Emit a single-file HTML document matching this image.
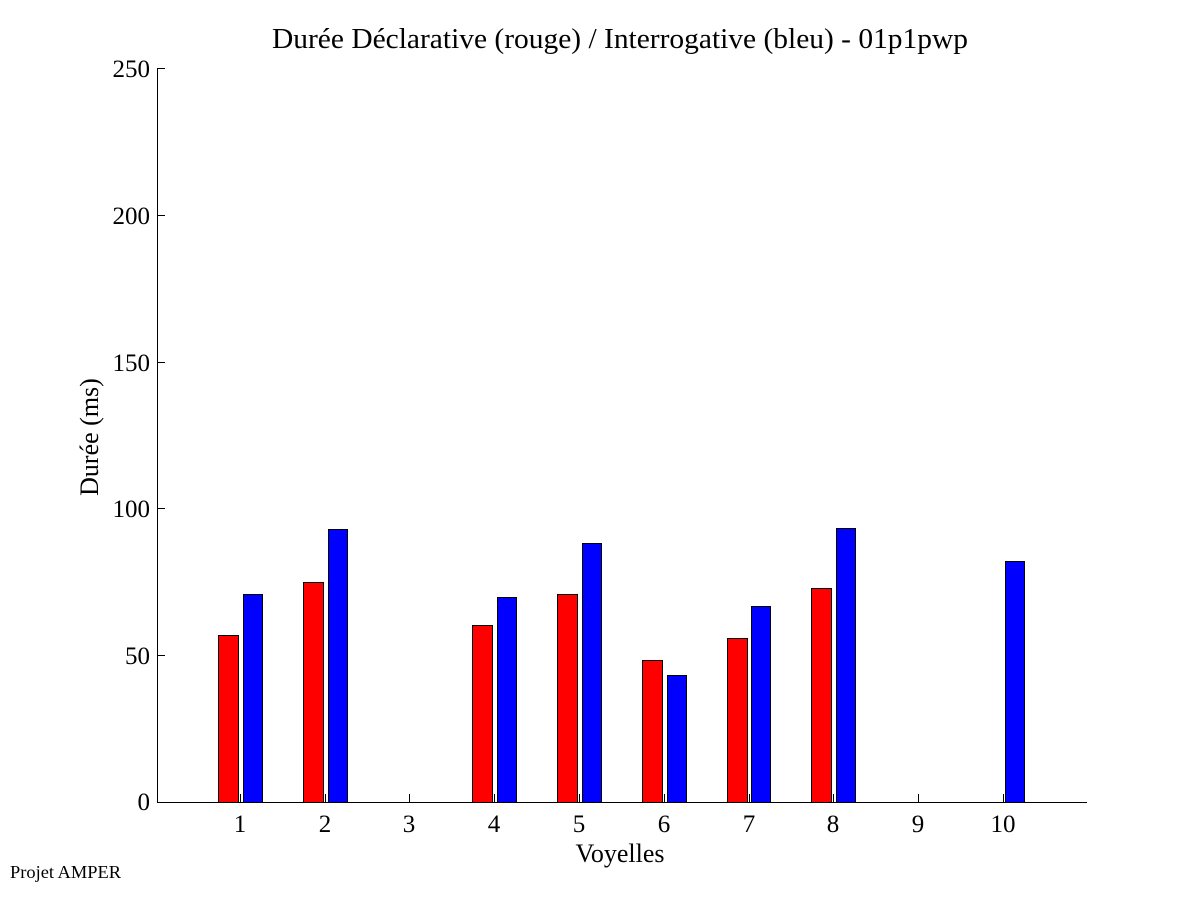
<!DOCTYPE html>
<html><head><style>body{margin:0;background:#fff}svg{display:block}text{font-family:"Liberation Serif",serif;fill:#000}</style></head><body>
<svg width="1201" height="901" viewBox="0 0 1201 901" xmlns="http://www.w3.org/2000/svg">
<rect width="1201" height="901" fill="#fff"/>
<text x="272" y="48" font-size="29" textLength="696" lengthAdjust="spacingAndGlyphs">Durée Déclarative (rouge) / Interrogative (bleu) - 01p1pwp</text>
<g stroke="#000" stroke-width="1">
<line x1="157.5" y1="68" x2="157.5" y2="802"/>
<line x1="157" y1="802.5" x2="1087" y2="802.5"/>
<line x1="157" y1="68.5" x2="165" y2="68.5"/>
<line x1="157" y1="215.5" x2="165" y2="215.5"/>
<line x1="157" y1="362.5" x2="165" y2="362.5"/>
<line x1="157" y1="508.5" x2="165" y2="508.5"/>
<line x1="157" y1="655.5" x2="165" y2="655.5"/>
</g>
<g font-size="25" text-anchor="end">
<text x="150" y="77">250</text><text x="150" y="224">200</text><text x="150" y="371">150</text><text x="150" y="517">100</text><text x="150" y="664">50</text><text x="150" y="810">0</text>
</g>
<g stroke="#000" stroke-width="1">
<rect x="218.5" y="635.5" width="20" height="167" fill="#f00"/>
<rect x="243.5" y="594.5" width="19" height="208" fill="#00f"/>
<rect x="303.5" y="582.5" width="20" height="220" fill="#f00"/>
<rect x="328.5" y="529.5" width="19" height="273" fill="#00f"/>
<rect x="472.5" y="625.5" width="20" height="177" fill="#f00"/>
<rect x="497.5" y="597.5" width="19" height="205" fill="#00f"/>
<rect x="557.5" y="594.5" width="20" height="208" fill="#f00"/>
<rect x="582.5" y="543.5" width="19" height="259" fill="#00f"/>
<rect x="642.5" y="660.5" width="20" height="142" fill="#f00"/>
<rect x="667.5" y="675.5" width="19" height="127" fill="#00f"/>
<rect x="727.5" y="638.5" width="20" height="164" fill="#f00"/>
<rect x="751.5" y="606.5" width="19" height="196" fill="#00f"/>
<rect x="811.5" y="588.5" width="20" height="214" fill="#f00"/>
<rect x="836.5" y="528.5" width="19" height="274" fill="#00f"/>
<rect x="1005.5" y="561.5" width="19" height="241" fill="#00f"/>
</g>
<g stroke="#000" stroke-width="1">
<line x1="240.5" y1="794" x2="240.5" y2="802"/><line x1="325.5" y1="794" x2="325.5" y2="802"/><line x1="409.5" y1="794" x2="409.5" y2="802"/><line x1="494.5" y1="794" x2="494.5" y2="802"/><line x1="579.5" y1="794" x2="579.5" y2="802"/><line x1="664.5" y1="794" x2="664.5" y2="802"/><line x1="749.5" y1="794" x2="749.5" y2="802"/><line x1="833.5" y1="794" x2="833.5" y2="802"/><line x1="918.5" y1="794" x2="918.5" y2="802"/><line x1="1003.5" y1="794" x2="1003.5" y2="802"/>
</g>
<g font-size="25" text-anchor="middle">
<text x="240" y="832">1</text><text x="325" y="832">2</text><text x="409" y="832">3</text><text x="494" y="832">4</text><text x="579" y="832">5</text><text x="664" y="832">6</text><text x="749" y="832">7</text><text x="833" y="832">8</text><text x="918" y="832">9</text><text x="1003" y="832">10</text>
</g>
<text x="620" y="862" font-size="26" text-anchor="middle">Voyelles</text>
<text transform="translate(98,437) rotate(-90)" font-size="26" text-anchor="middle">Durée (ms)</text>
<text x="10" y="878" font-size="18" textLength="111" lengthAdjust="spacingAndGlyphs">Projet AMPER</text>
</svg>
</body></html>
